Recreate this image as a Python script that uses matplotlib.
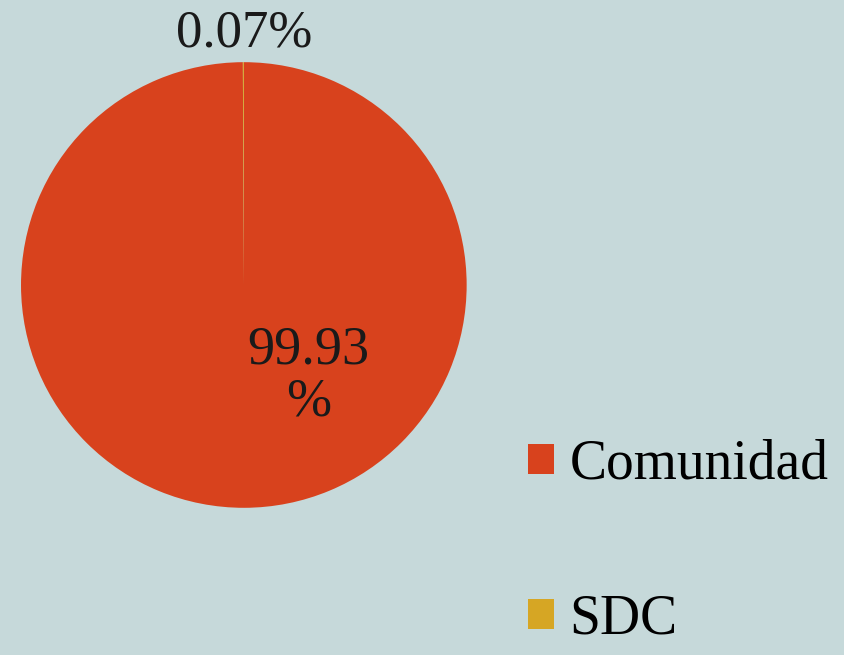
import matplotlib
matplotlib.use('Agg')
import matplotlib.pyplot as plt

labels = ['Comunidad', 'SDC']
shares = [99.93, 0.07]
colors = ['#d8421d', '#d6a624']
bg = '#c6d9da'

plt.rcParams['font.family'] = ['Liberation Serif', 'DejaVu Serif']

fig = plt.figure(figsize=(8.44, 6.55), dpi=100, facecolor=bg)
ax = fig.add_axes([0.0249, 0.2244, 0.528, 0.681])
ax.set_facecolor(bg)

wedges, _ = ax.pie(shares, colors=colors, startangle=90, counterclock=False,
                   radius=1, wedgeprops=dict(linewidth=0))
ax.set_xlim(-1, 1)
ax.set_ylim(-1, 1)
ax.set_aspect('equal')
ax.axis('off')

# percentage labels
ax.text(0.29, -0.41, '{:.2f}\n%'.format(shares[0]), ha='center', va='center',
        fontsize=39, color='#1a1a1a', linespacing=1.05)
ax.text(0.0, 1.13, '{:.2f}%'.format(shares[1]), ha='center', va='center',
        fontsize=38, color='#1a1a1a', clip_on=False)

fig.legend(wedges, labels, loc='center left', bbox_to_anchor=(0.626, 0.172),
           frameon=False, fontsize=40, handlelength=0.46, handleheight=0.46,
           handletextpad=0.28, labelspacing=1.85, borderpad=0, borderaxespad=0)

plt.savefig('out.png', dpi=100, facecolor=bg)
